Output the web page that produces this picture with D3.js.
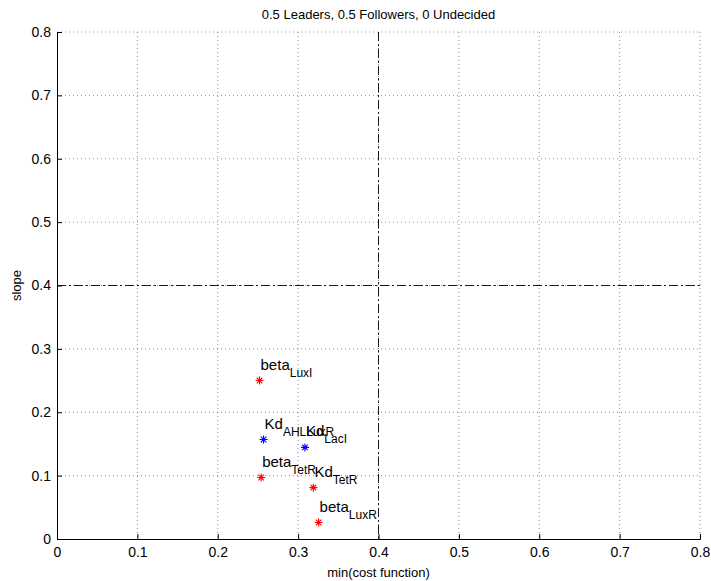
<!DOCTYPE html>
<html>
<head>
<meta charset="utf-8">
<script src="https://cdn.jsdelivr.net/npm/d3@7"></script>
<style>
  body { margin: 0; background: #fff; }
  svg { font-family: "Liberation Sans", Arial, sans-serif; }
</style>
</head>
<body>
<script>
// parameter names (base + subscript)
var labelBase = ["beta", "Kd", "Kd", "beta", "Kd", "beta"];
var labelSub  = ["LuxI", "AHLLuxR", "LacI", "TetR", "TetR", "LuxR"];
var minCost   = [0.252, 0.257, 0.3085, 0.254, 0.319, 0.3255];
var slope     = [0.250, 0.157, 0.1445, 0.097, 0.081, 0.026];
var group     = ["red", "blue", "blue", "red", "red", "red"];
var tickVals  = [0, 0.1, 0.2, 0.3, 0.4, 0.5, 0.6, 0.7, 0.8];
var threshX = 0.4, threshY = 0.4;

var W = 711, H = 581;
var margin = {top: 32, right: 11, bottom: 42, left: 57},
    width = W - margin.left - margin.right,
    height = H - margin.top - margin.bottom;

var x = d3.scaleLinear().domain([0, 0.8]).range([0, width]);
var y = d3.scaleLinear().domain([0, 0.8]).range([height, 0]);

var svg = d3.select("body").append("svg")
    .attr("width", W).attr("height", H);
var g = svg.append("g")
    .attr("transform", "translate(" + margin.left + "," + margin.top + ")");

// grid
g.selectAll(".gx").data(tickVals.slice(1)).enter().append("line")
  .attr("x1", d => x(d)).attr("x2", d => x(d))
  .attr("y1", 0).attr("y2", height)
  .attr("stroke", "#444").attr("stroke-width", 0.6)
  .attr("stroke-dasharray", "1,3");
g.selectAll(".gy").data(tickVals.slice(1)).enter().append("line")
  .attr("x1", 0).attr("x2", width)
  .attr("y1", d => y(d)).attr("y2", d => y(d))
  .attr("stroke", "#444").attr("stroke-width", 0.6)
  .attr("stroke-dasharray", "1,3");

// axes
var xAxis = d3.axisBottom(x).tickValues(tickVals).tickSize(-5).tickPadding(8)
  .tickFormat(d => d === 0 ? "0" : d3.format(".1f")(d));
var yAxis = d3.axisLeft(y).tickValues(tickVals).tickSize(-5).tickPadding(6)
  .tickFormat(d => d === 0 ? "0" : d3.format(".1f")(d));

var gx = g.append("g").attr("transform", "translate(0," + height + ")").call(xAxis);
var gy = g.append("g").call(yAxis);
[gx, gy].forEach(function(a) {
  a.select(".domain").attr("stroke", "#000").attr("stroke-width", 1);
  a.selectAll(".tick line").attr("stroke", "#000");
  a.selectAll("text").attr("font-size", 14).attr("fill", "#000")
    .attr("font-family", "Liberation Sans, Arial, sans-serif");
});

// threshold lines
g.append("line")
  .attr("x1", x(threshX)).attr("x2", x(threshX))
  .attr("y1", 0).attr("y2", height)
  .attr("stroke", "#000").attr("stroke-width", 0.9)
  .attr("stroke-dasharray", "9,3,2,3");
g.append("line")
  .attr("x1", 0).attr("x2", width)
  .attr("y1", y(threshY)).attr("y2", y(threshY))
  .attr("stroke", "#000").attr("stroke-width", 0.9)
  .attr("stroke-dasharray", "9,3,2,3");

// asterisk markers
var r = 4;
var starPath = "M" + (-r) + ",0L" + r + ",0M0," + (-r) + "L0," + r +
  "M" + (-r * 0.7) + "," + (-r * 0.7) + "L" + (r * 0.7) + "," + (r * 0.7) +
  "M" + (-r * 0.7) + "," + (r * 0.7) + "L" + (r * 0.7) + "," + (-r * 0.7);

var pts = minCost.map((d, i) => ({x: d, y: slope[i], b: labelBase[i], s: labelSub[i], c: group[i]}));

g.selectAll(".pt").data(pts).enter().append("path")
  .attr("d", starPath)
  .attr("transform", d => "translate(" + x(d.x) + "," + y(d.y) + ")")
  .attr("stroke", d => d.c === "red" ? "#ff0000" : "#0000ff")
  .attr("stroke-width", 1.1)
  .attr("fill", "none");

var lab = g.selectAll(".lab").data(pts).enter().append("text")
  .attr("x", d => x(d.x) + 1)
  .attr("y", d => y(d.y) - 11)
  .attr("font-size", 15)
  .attr("fill", "#000");
lab.append("tspan").text(d => d.b);
lab.append("tspan").attr("dy", 7).attr("font-size", 12).text(d => d.s);

// title and labels
svg.append("text")
  .attr("x", margin.left + width / 2).attr("y", 19)
  .attr("text-anchor", "middle").attr("font-size", 13)
  .text("0.5 Leaders, 0.5 Followers, 0 Undecided");

svg.append("text")
  .attr("x", margin.left + width / 2).attr("y", 577)
  .attr("text-anchor", "middle").attr("font-size", 13)
  .text("min(cost function)");

svg.append("text")
  .attr("transform", "rotate(-90)")
  .attr("x", -(margin.top + height / 2)).attr("y", 21)
  .attr("text-anchor", "middle").attr("font-size", 13)
  .text("slope");
</script>
</body>
</html>
